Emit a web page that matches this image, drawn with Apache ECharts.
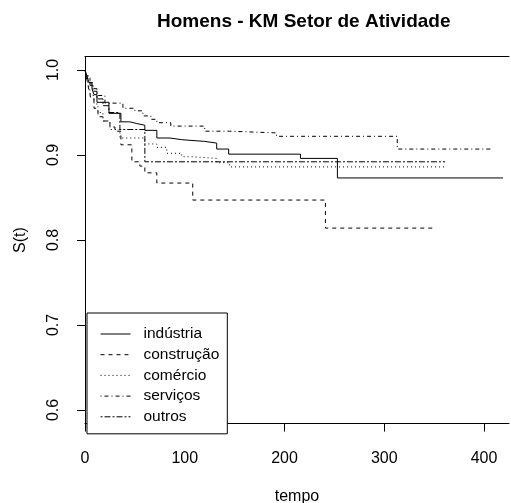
<!DOCTYPE html>
<html>
<head>
<meta charset="utf-8">
<script src="https://cdn.jsdelivr.net/npm/echarts@6/dist/echarts.min.js"></script>
<style>
  html, body { margin: 0; padding: 0; background: #fff; }
  #chart { width: 511px; height: 503px; }
</style>
</head>
<body>
<div id="chart"></div>
<script>
// Kaplan-Meier survival estimates by activity sector (men)
const industriaT  = [0, 2, 4, 7, 9, 12, 24, 36, 45, 52, 60, 72, 85, 97, 120, 132, 144, 216, 253, 419];
const industriaS  = [1, 0.993, 0.985, 0.978, 0.971, 0.962, 0.949, 0.939, 0.937, 0.935, 0.929, 0.920, 0.918, 0.916, 0.914, 0.907, 0.901, 0.896, 0.873, 0.873];

const construcaoT = [0, 2, 4, 6, 9, 13, 18, 25, 30, 36, 47, 55, 60, 72, 108, 241, 349];
const construcaoS = [1, 0.988, 0.976, 0.966, 0.955, 0.945, 0.940, 0.933, 0.928, 0.912, 0.892, 0.887, 0.879, 0.867, 0.847, 0.814, 0.814];

const comercioT   = [0, 2, 4, 6, 9, 13, 18, 25, 35, 60, 72, 82, 97, 107, 132, 145, 360];
const comercioS   = [1, 0.99, 0.98, 0.97, 0.96, 0.95, 0.94, 0.93, 0.92, 0.913, 0.909, 0.902, 0.898, 0.896, 0.891, 0.886, 0.886];

const servicosT   = [0, 2, 5, 8, 12, 20, 38, 50, 58, 66, 72, 86, 120, 145, 192, 313, 408];
const servicosS   = [1, 0.993, 0.985, 0.978, 0.970, 0.961, 0.955, 0.952, 0.946, 0.942, 0.938, 0.934, 0.928, 0.926, 0.922, 0.907, 0.907];

const outrosT     = [0, 2, 5, 8, 12, 18, 24, 35, 60, 361];
const outrosS     = [1, 0.99, 0.982, 0.975, 0.966, 0.958, 0.950, 0.930, 0.892, 0.892];

const xTicks = [0, 100, 200, 300, 400];
const yTicks = [0.6, 0.7, 0.8, 0.9, 1.0];

const FONT = 'Liberation Sans, Arial, sans-serif';
const X_RANGE = [0, 425];
const Y_RANGE = [0.584, 1.016];

function pairs(ts, ss) { return ts.map((t, i) => [t, ss[i]]); }

const curves = [
  { name: 'indústria',  t: industriaT,  s: industriaS,  dash: 'solid' },
  { name: 'construção', t: construcaoT, s: construcaoS, dash: [4, 4] },
  { name: 'comércio',   t: comercioT,   s: comercioS,   dash: [1, 3] },
  { name: 'serviços',   t: servicosT,   s: servicosS,   dash: [1, 3, 4, 3] },
  { name: 'outros',     t: outrosT,     s: outrosS,     dash: [2, 2, 6, 2] }
];

// top edge of the plot frame
const frameTop = {
  type: 'value', position: 'top', min: X_RANGE[0], max: X_RANGE[1],
  axisLine: { show: true, onZero: false, lineStyle: { color: '#000', width: 1 } },
  axisTick: { show: false }, axisLabel: { show: false }, splitLine: { show: false }
};

const hiddenSplit = { show: true, lineStyle: { color: 'rgba(0,0,0,0)', width: 0 } };

const chart = echarts.init(document.getElementById('chart'));

chart.setOption({
  animation: false,
  title: {
    text: 'Homens - KM Setor de Atividade',
    left: 157, top: 12, padding: 0,
    textStyle: { fontFamily: FONT, fontSize: 19, fontWeight: 'bold', color: '#000' }
  },
  grid: { left: 85, top: 56.4, width: 424, height: 367.2, outerBoundsMode: 'none' },
  legend: {
    orient: 'vertical',
    left: 87, top: 313,
    padding: [13, 8, 9, 13],
    itemWidth: 30, itemHeight: 14, itemGap: 4.7,
    borderColor: '#000', borderWidth: 1,
    backgroundColor: '#fff',
    itemStyle: { opacity: 0 },
    lineStyle: { width: 1 },
    textStyle: { fontFamily: FONT, fontSize: 15.5, color: '#000', padding: [0, 0, 0, 8] },
    data: curves.map(c => c.name)
  },
  xAxis: [{
    type: 'value', position: 'bottom', min: X_RANGE[0], max: X_RANGE[1],
    name: 'tempo', nameLocation: 'middle', nameGap: 65,
    nameTextStyle: { fontFamily: FONT, fontSize: 16, color: '#000' },
    axisLine: { show: true, onZero: false, lineStyle: { color: '#000' } },
    splitLine: hiddenSplit,
    axisTick: { show: true, length: 8, customValues: xTicks, lineStyle: { color: '#000', width: 1 } },
    axisLabel: { customValues: xTicks, margin: 27, fontFamily: FONT, fontSize: 16, color: '#000' }
  }, frameTop],
  yAxis: {
    type: 'value', position: 'left', min: Y_RANGE[0], max: Y_RANGE[1],
    name: 'S(t)', nameLocation: 'middle', nameGap: 56, nameRotate: 90,
    nameTextStyle: { fontFamily: FONT, fontSize: 16, color: '#000' },
    axisLine: { show: true, onZero: false, lineStyle: { color: '#000' } },
    splitLine: hiddenSplit,
    axisTick: { show: true, length: 8, customValues: yTicks, lineStyle: { color: '#000', width: 1 } },
    axisLabel: {
      customValues: yTicks, rotate: 90, margin: 23,
      fontFamily: FONT, fontSize: 16, color: '#000',
      formatter: v => v.toFixed(1)
    }
  },
  series: curves.map(c => ({
    name: c.name,
    type: 'line',
    step: 'end',
    symbol: 'none',
    showSymbol: false,
    silent: true,
    xAxisIndex: 0, yAxisIndex: 0,
    data: pairs(c.t, c.s),
    lineStyle: { color: '#000', width: 1, type: c.dash },
    itemStyle: { color: '#000' }
  }))
});
</script>
</body>
</html>
